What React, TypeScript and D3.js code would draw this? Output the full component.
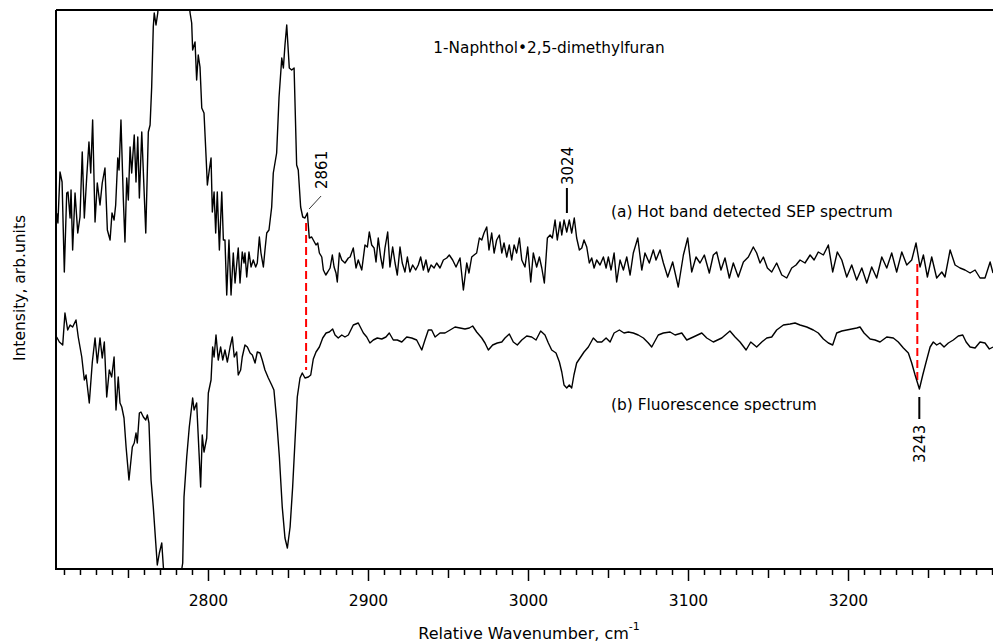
import React from 'react';
import * as d3 from 'd3';

// [wavenumber cm-1, intensity arb.units]
const sepSpectrum: [number, number][] = [
  [2705.1, 356], [2705.9, 346], [2707.2, 397], [2708.5, 387], [2709.9, 297], [2711.4, 376],
  [2712.2, 377], [2713.5, 351], [2714.1, 379], [2715.1, 319], [2716.6, 376], [2718.3, 336],
  [2719.7, 352], [2721.1, 417], [2722.4, 351], [2723.9, 392], [2725.3, 427], [2726.4, 396],
  [2727.6, 449], [2729.1, 347], [2730.5, 386], [2732.2, 364], [2733.6, 386], [2735.3, 401],
  [2736.8, 339], [2738.5, 329], [2739.7, 356], [2741.0, 349], [2742.0, 364], [2743.3, 411],
  [2744.1, 399], [2745.3, 449], [2746.8, 369], [2747.8, 327], [2748.9, 391], [2749.9, 369],
  [2751.0, 422], [2752.0, 396], [2753.6, 434], [2754.7, 387], [2755.8, 432], [2756.8, 371],
  [2758.3, 437], [2760.8, 336], [2762.4, 437], [2763.5, 444], [2764.5, 482], [2765.5, 542],
  [2766.1, 556], [2767.2, 544], [2768.3, 556], [2772, 640], [2778, 690], [2784, 630],
  [2788.5, 556], [2789.5, 546], [2790.1, 519], [2791.6, 527], [2792.6, 489], [2793.6, 514],
  [2794.7, 502], [2795.8, 461], [2797.2, 456], [2798.5, 412], [2799.3, 384], [2800.5, 399],
  [2801.6, 411], [2802.4, 357], [2803.5, 377], [2804.5, 336], [2805.5, 377], [2806.8, 319],
  [2808.3, 377], [2809.3, 329], [2810.3, 329], [2811.4, 274], [2812.8, 329], [2814.1, 274],
  [2815.5, 316], [2816.6, 286], [2817.6, 304], [2818.6, 321], [2819.7, 286], [2821.1, 317],
  [2822.2, 306], [2822.8, 316], [2823.9, 292], [2825.3, 317], [2826.6, 302], [2828.0, 309],
  [2829.5, 302], [2830.5, 306], [2831.8, 332], [2832.8, 316], [2834.3, 302], [2835.3, 319],
  [2836.4, 336], [2837.8, 339], [2839.5, 362], [2840.5, 396], [2842.6, 416], [2844.1, 472],
  [2845.8, 511], [2846.8, 501], [2847.8, 524], [2848.9, 544], [2850.5, 501], [2852.0, 499],
  [2853.5, 501], [2855.1, 404], [2856.1, 399], [2857.6, 362], [2858.9, 352], [2860.3, 351],
  [2861.8, 356], [2863.0, 331], [2864.5, 332], [2865.5, 329], [2867.2, 324], [2868.3, 326],
  [2869.3, 316], [2870.8, 312], [2871.8, 299], [2873.3, 294], [2874.5, 297], [2876.0, 301],
  [2877.4, 314], [2878.5, 302], [2879.7, 296], [2880.5, 287], [2881.8, 316], [2883.3, 309],
  [2885.3, 306], [2887.4, 311], [2888.5, 312], [2890.5, 321], [2892.2, 301], [2893.6, 309],
  [2895.8, 299], [2897.8, 324], [2899.3, 322], [2900.5, 337], [2902.0, 324], [2903.5, 321],
  [2904.7, 307], [2906.1, 331], [2907.6, 312], [2908.9, 301], [2910.3, 321], [2912.0, 337],
  [2913.4, 302], [2915.1, 322], [2916.6, 306], [2918.0, 294], [2919.7, 322], [2921.1, 306],
  [2922.8, 297], [2924.3, 312], [2925.9, 297], [2927.6, 304], [2929.5, 299], [2931.1, 304],
  [2932.6, 312], [2934.3, 299], [2935.9, 309], [2937.4, 297], [2939.1, 304], [2941.0, 301],
  [2942.6, 306], [2944.7, 301], [2946.8, 309], [2948.9, 311], [2950.5, 314], [2952.6, 309],
  [2954.7, 302], [2957.2, 311], [2959.3, 279], [2961.4, 306], [2962.8, 296], [2964.5, 312],
  [2966.0, 314], [2967.6, 316], [2969.3, 331], [2970.8, 329], [2972.2, 336], [2973.9, 342],
  [2975.3, 319], [2977.0, 336], [2978.5, 316], [2980.1, 329], [2981.8, 334], [2983.3, 316],
  [2984.7, 326], [2986.4, 312], [2988.0, 324], [2989.5, 309], [2991.0, 324], [2992.6, 316],
  [2994.3, 331], [2995.8, 309], [2997.8, 302], [2999.5, 322], [3001.4, 287], [3003.0, 316],
  [3005.1, 302], [3006.8, 312], [3008.3, 301], [3009.9, 286], [3011.8, 331], [3013.5, 334],
  [3014.9, 331], [3016.6, 349], [3018.0, 329], [3019.7, 347], [3020.8, 334], [3022.2, 349],
  [3023.9, 337], [3025.5, 349], [3027.0, 336], [3028.6, 351], [3030.1, 331], [3031.8, 319],
  [3033.3, 321], [3034.7, 329], [3036.4, 322], [3038.0, 306], [3039.5, 311], [3041.0, 301],
  [3042.6, 309], [3044.7, 304], [3046.8, 312], [3048.5, 301], [3049.9, 312], [3051.6, 299],
  [3053.5, 316], [3055.1, 287], [3057.2, 309], [3059.3, 299], [3061.4, 312], [3063.5, 294],
  [3065.5, 316], [3068.3, 331], [3070.8, 299], [3072.8, 316], [3075.5, 306], [3078.0, 319],
  [3079.7, 309], [3082.2, 319], [3084.3, 306], [3087.0, 292], [3090.1, 307], [3093.6, 282],
  [3096.8, 314], [3099.5, 331], [3102.0, 297], [3104.7, 312], [3107.2, 306], [3109.9, 314],
  [3113.0, 296], [3115.5, 314], [3117.6, 317], [3120.3, 299], [3122.8, 311], [3125.5, 291],
  [3128.0, 306], [3131.1, 292], [3134.3, 307], [3137.4, 312], [3140.5, 322], [3142.6, 316],
  [3144.7, 306], [3146.8, 312], [3149.3, 301], [3152.0, 297], [3155.1, 306], [3158.3, 294],
  [3161.4, 291], [3164.5, 301], [3167.2, 304], [3169.7, 309], [3172.8, 306], [3176.0, 314],
  [3178.5, 309], [3181.1, 317], [3184.3, 314], [3187.4, 324], [3190.1, 297], [3193.0, 317],
  [3195.8, 309], [3198.9, 292], [3202.0, 304], [3205.1, 289], [3208.3, 301], [3211.4, 286],
  [3214.5, 302], [3217.6, 291], [3220.8, 312], [3223.9, 301], [3227.0, 316], [3230.1, 297],
  [3233.3, 317], [3236.4, 304], [3239.5, 309], [3242.2, 326], [3244.7, 302], [3246.8, 314],
  [3249.3, 292], [3252.0, 312], [3255.1, 291], [3258.3, 297], [3260.3, 292], [3263.5, 319],
  [3266.6, 304], [3269.7, 301], [3272.8, 299], [3276.0, 296], [3279.1, 299], [3282.2, 291],
  [3285.3, 291], [3288.5, 307], [3290.3, 296],
];

const fluorSpectrum: [number, number][] = [
  [2705.1, 232], [2706.8, 227], [2708.9, 224], [2710.3, 256], [2712.0, 239], [2713.5, 244],
  [2715.1, 242], [2717.2, 249], [2718.6, 232], [2720.8, 212], [2722.4, 189], [2723.5, 194],
  [2725.5, 166], [2727.4, 207], [2729.1, 231], [2730.5, 206], [2732.2, 231], [2733.6, 211],
  [2734.9, 227], [2736.4, 172], [2738.0, 199], [2739.5, 192], [2741.0, 212], [2742.2, 159],
  [2743.6, 192], [2744.7, 166], [2745.8, 162], [2747.2, 151], [2748.5, 122], [2750.3, 89],
  [2752.4, 122], [2753.6, 126], [2754.7, 136], [2755.5, 126], [2756.8, 156], [2757.8, 157],
  [2759.3, 152], [2760.8, 149], [2761.8, 154], [2762.8, 146], [2764.1, 89], [2765.5, 62],
  [2767.0, 27], [2768.0, 4], [2769.3, 16], [2770.8, 26], [2771.8, 2], [2775, -40],
  [2779, -50], [2783.3, 0], [2783.9, 6], [2784.7, 72], [2786.4, 112], [2788.0, 142],
  [2790.1, 171], [2791.0, 159], [2792.6, 166], [2794.1, 116], [2795.1, 82], [2796.1, 134],
  [2797.2, 117], [2798.9, 131], [2799.9, 176], [2801.6, 189], [2802.6, 222], [2803.5, 212],
  [2804.7, 234], [2806.1, 209], [2807.6, 222], [2808.9, 209], [2810.3, 219], [2811.8, 207],
  [2813.5, 222], [2814.9, 232], [2816.1, 212], [2817.6, 217], [2818.6, 194], [2820.1, 199],
  [2821.1, 212], [2822.8, 224], [2824.3, 222], [2826.0, 216], [2827.4, 214], [2829.1, 206],
  [2830.5, 217], [2832.2, 216], [2833.6, 209], [2835.3, 199], [2837.4, 191], [2839.5, 184],
  [2840.9, 179], [2842.6, 149], [2844.3, 112], [2846.1, 62], [2847.8, 31], [2849.3, 21],
  [2851.0, 42], [2852.6, 82], [2854.1, 129], [2855.5, 172], [2857.2, 191], [2858.6, 196],
  [2860.3, 191], [2862.4, 192], [2863.9, 194], [2865.5, 210], [2867.2, 217], [2869.3, 222],
  [2871.4, 231], [2873.5, 236], [2875.5, 237], [2877.6, 240], [2879.1, 234], [2881.1, 231],
  [2883.3, 234], [2885.3, 232], [2887.4, 234], [2890.5, 244], [2893.6, 246], [2896.8, 236],
  [2898.9, 232], [2900.9, 226], [2903.0, 229], [2905.5, 231], [2908.3, 230], [2910.9, 232],
  [2913.0, 236], [2915.5, 229], [2918.0, 229], [2920.8, 227], [2923.9, 232], [2927.0, 231],
  [2930.1, 229], [2933.3, 219], [2935.3, 229], [2937.4, 239], [2939.5, 239], [2941.6, 232],
  [2944.7, 236], [2947.8, 236], [2951.0, 239], [2954.1, 242], [2957.2, 241], [2960.3, 240],
  [2963.0, 241], [2965.1, 243], [2967.6, 237], [2970.8, 231], [2972.8, 226], [2974.9, 219],
  [2977.6, 224], [2980.5, 226], [2983.3, 227], [2985.3, 231], [2988.0, 235], [2990.5, 227],
  [2993.0, 224], [2995.8, 229], [2998.9, 233], [3002.0, 232], [3004.7, 229], [3007.6, 238],
  [3010.3, 234], [3012.4, 226], [3014.5, 219], [3017.2, 216], [3019.3, 207], [3020.8, 197],
  [3022.2, 184], [3023.9, 181], [3025.5, 184], [3027.0, 181], [3028.4, 194], [3030.1, 206],
  [3032.2, 211], [3034.7, 217], [3037.4, 222], [3040.5, 231], [3043.0, 227], [3045.8, 227],
  [3048.5, 231], [3051.0, 227], [3053.5, 236], [3056.8, 239], [3059.7, 236], [3062.4, 237],
  [3065.5, 236], [3068.6, 234], [3071.8, 231], [3074.9, 226], [3077.0, 222], [3081.1, 234],
  [3084.3, 236], [3088.5, 237], [3091.6, 234], [3095.8, 236], [3098.9, 229], [3103.0, 232],
  [3108.3, 236], [3111.4, 231], [3115.5, 227], [3120.8, 231], [3125.9, 238], [3129.1, 232],
  [3132.2, 227], [3136.0, 219], [3138.9, 227], [3142.6, 222], [3145.8, 227], [3148.9, 231],
  [3152.0, 232], [3155.1, 239], [3159.3, 244], [3163.5, 245], [3166.6, 246], [3169.7, 244],
  [3173.9, 242], [3178.0, 239], [3181.1, 236], [3184.3, 230], [3187.4, 226], [3190.1, 224],
  [3192.6, 236], [3195.8, 238], [3198.9, 239], [3202.0, 240], [3205.1, 241], [3207.2, 242],
  [3209.7, 236], [3213.5, 230], [3216.6, 229], [3219.7, 227], [3223.9, 232], [3228.0, 231],
  [3231.1, 227], [3234.3, 221], [3237.4, 216], [3239.5, 206], [3241.6, 194], [3244.3, 180],
  [3246.4, 194], [3248.5, 207], [3251.0, 222], [3253.0, 227], [3255.1, 224], [3257.2, 226],
  [3259.7, 222], [3262.4, 226], [3265.5, 229], [3268.6, 233], [3271.4, 234], [3273.5, 227],
  [3276.0, 222], [3279.1, 221], [3282.2, 227], [3285.3, 226], [3288.0, 220], [3290.3, 222],
];

const xDomain = [2704.7, 3290.3];
const yDomain = [0, 559];
const xTickLabels = [2800, 2900, 3000, 3100, 3200];

// dashed red guides: [wavenumber, from intensity, to intensity]
const guides: [number, number, number][] = [
  [2861, 346, 199],
  [3243, 305, 186],
];

const W = 993;
const H = 643;
const M = { left: 56, right: 993, top: 10, bottom: 569 };
const font = '"DejaVu Sans", Verdana, sans-serif';

export default function App() {
  const x = d3.scaleLinear().domain(xDomain).range([M.left, M.right]);
  const y = d3.scaleLinear().domain(yDomain).range([M.bottom, M.top]);

  const line = d3.line<[number, number]>()
    .x(d => x(d[0]))
    .y(d => y(d[1]));

  const ticks = d3.range(2710, 3291, 10);

  return (
    <svg width={W} height={H} style={{ position: 'absolute', left: 0, top: 0 }} fontFamily={font}>
      <defs>
        <clipPath id="plot">
          <rect x={M.left} y={M.top} width={M.right - M.left} height={M.bottom - M.top} />
        </clipPath>
      </defs>

      {guides.map(([w, a, b]) => (
        <line key={w} x1={x(w)} x2={x(w)} y1={y(a)} y2={y(b)}
          stroke="#ff0000" strokeWidth={2} strokeDasharray="8,4" />
      ))}

      <g clipPath="url(#plot)" fill="none" stroke="#000" strokeWidth={1.4} strokeLinejoin="round">
        <path d={line(sepSpectrum) || ''} />
        <path d={line(fluorSpectrum) || ''} />
      </g>

      {/* frame */}
      <g stroke="#000" strokeWidth={2} fill="none">
        <line x1={M.left} x2={M.left} y1={M.top} y2={M.bottom} />
        <line x1={M.left} x2={W} y1={M.top} y2={M.top} />
        <line x1={M.left - 1} x2={W} y1={M.bottom} y2={M.bottom} />
      </g>

      {/* ticks */}
      <g stroke="#000" strokeWidth={1.5}>
        {ticks.map(t => {
          const len = t % 100 === 0 ? 12 : t % 50 === 0 ? 9 : 6;
          return <line key={t} x1={x(t)} x2={x(t)} y1={M.bottom} y2={M.bottom + len} />;
        })}
      </g>
      {xTickLabels.map(t => (
        <text key={t} x={x(t)} y={606} fontSize={15.5} textAnchor="middle">{t}</text>
      ))}

      <text x={529} y={639} fontSize={16} textAnchor="middle">
        Relative Wavenumber, cm<tspan dy={-9} fontSize={11}>-1</tspan>
      </text>
      <text transform="translate(25,288) rotate(-90)" fontSize={15.5} textAnchor="middle">
        Intensity, arb.units
      </text>

      <text x={549} y={53} fontSize={15.3} textAnchor="middle">1-Naphthol•2,5-dimethylfuran</text>
      <text x={611} y={217} fontSize={15.4}>(a) Hot band detected SEP spectrum</text>
      <text x={611} y={410} fontSize={15.4}>(b) Fluorescence spectrum</text>

      {/* peak labels */}
      <line x1={x(2861) + 3} y1={209} x2={x(2861) + 15} y2={196} stroke="#000" strokeWidth={0.8} />
      <text transform={`translate(${x(2861) + 21},189) rotate(-90)`} fontSize={15}>2861</text>

      <line x1={x(3024)} x2={x(3024)} y1={188} y2={213} stroke="#000" strokeWidth={2} />
      <text transform={`translate(${x(3024) + 6},185) rotate(-90)`} fontSize={15}>3024</text>

      <line x1={x(3243) + 2} x2={x(3243) + 2} y1={397} y2={419} stroke="#000" strokeWidth={2} />
      <text transform={`translate(${x(3243) + 8},463) rotate(-90)`} fontSize={15}>3243</text>
    </svg>
  );
}
